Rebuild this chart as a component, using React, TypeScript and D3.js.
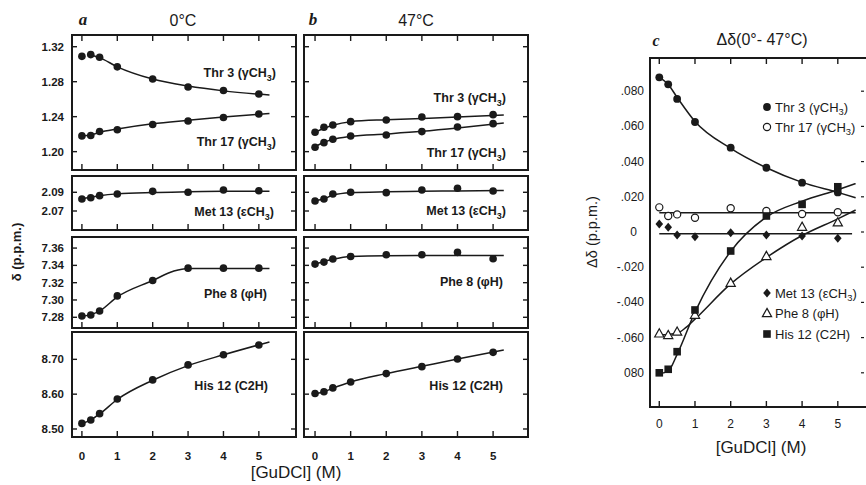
import React from "react";
import * as d3 from "d3";

// ---------- data ----------
const gudcl = [0, 0.25, 0.5, 1, 2, 3, 4, 5];
const xTickValues = [0, 1, 2, 3, 4, 5];

// (a) 0 °C chemical shifts (p.p.m.)
const thr3At0 = [1.309, 1.311, 1.308, 1.297, 1.283, 1.274, 1.27, 1.266];
const thr17At0 = [1.218, 1.2185, 1.223, 1.225, 1.231, 1.235, 1.239, 1.243];
const met13At0 = [2.0828, 2.0842, 2.0864, 2.0882, 2.091, 2.09, 2.0925, 2.0917];
const phe8At0 = [7.2815, 7.2827, 7.2873, 7.3047, 7.3225, 7.3368, 7.3368, 7.3368];
const his12At0 = [8.516, 8.526, 8.544, 8.586, 8.641, 8.684, 8.713, 8.741];

// (b) 47 °C chemical shifts (p.p.m.)
const thr3At47 = [1.2222, 1.2279, 1.2305, 1.2343, 1.2362, 1.2397, 1.24, 1.2423];
const thr17At47 = [1.205, 1.2103, 1.2142, 1.2179, 1.2191, 1.2229, 1.2282, 1.232];
const met13At47 = [2.0807, 2.0828, 2.0882, 2.09, 2.0896, 2.0925, 2.0943, 2.0914];
const phe8At47 = [7.3415, 7.3438, 7.3473, 7.3503, 7.3523, 7.3523, 7.355, 7.3476];
const his12At47 = [8.602, 8.607, 8.618, 8.635, 8.659, 8.679, 8.701, 8.72];

// (c) Δδ (0° - 47 °C)
const dThr3 = [0.0879, 0.0839, 0.0756, 0.0625, 0.0479, 0.0365, 0.028, 0.0225];
const dThr17 = [0.014, 0.0091, 0.01, 0.0081, 0.0135, 0.0119, 0.0102, 0.0112];
const dMet13 = [0.0045, 0.0027, -0.0017, -0.0027, -0.0004, -0.0017, -0.0023, -0.0036];
const dPhe8 = [-0.0576, -0.0585, -0.0566, -0.047, -0.0288, -0.0136, 0.003, 0.0055];
const dHis12 = [-0.08, -0.078, -0.068, -0.0443, -0.0108, 0.0091, 0.0157, 0.0257];

// fitted curves [GuDCl, value]
type P = [number, number];
const thr3At0Fit: P[] = [[0.15, 1.3115], [0.5, 1.3075], [1, 1.297], [2, 1.283], [3, 1.275], [4, 1.2695], [5.3, 1.2648]];
const thr17At0Fit: P[] = [[0, 1.218], [0.25, 1.219], [0.5, 1.222], [1, 1.2258], [2, 1.2318], [3, 1.2358], [4, 1.2395], [5.3, 1.2437]];
const met13At0Fit: P[] = [[0, 2.083], [0.5, 2.0863], [1, 2.0883], [2, 2.0898], [3, 2.0905], [4, 2.091], [5.3, 2.0912]];
const phe8At0Fit: P[] = [[0, 7.281], [0.5, 7.2872], [1, 7.3035], [2, 7.3225], [2.6, 7.3335], [3, 7.3365], [5.3, 7.3365]];
const his12At0Fit: P[] = [[0, 8.515], [0.25, 8.526], [0.5, 8.543], [1, 8.585], [2, 8.64], [3, 8.682], [4, 8.713], [5.3, 8.75]];

const thr3At47Fit: P[] = [[0, 1.2222], [0.5, 1.2302], [1, 1.2343], [2, 1.2365], [3, 1.238], [4, 1.2396], [5.3, 1.2418]];
const thr17At47Fit: P[] = [[0, 1.206], [0.25, 1.2105], [0.5, 1.214], [1, 1.2175], [2, 1.2202], [3, 1.2232], [4, 1.227], [5.3, 1.2328]];
const met13At47Fit: P[] = [[0, 2.081], [0.25, 2.083], [0.5, 2.087], [1, 2.0895], [2, 2.0905], [3, 2.091], [4, 2.0915], [5.3, 2.092]];
const phe8At47Fit: P[] = [[0, 7.3415], [0.5, 7.347], [1, 7.3502], [2, 7.3512], [5.3, 7.3515]];
const his12At47Fit: P[] = [[0, 8.601], [0.25, 8.607], [0.5, 8.617], [1, 8.635], [2, 8.659], [3, 8.68], [4, 8.701], [5.3, 8.727]];

const dThr3Fit: P[] = [[0, 0.088], [0.25, 0.0838], [0.5, 0.0765], [1, 0.0628], [2, 0.0475], [3, 0.0365], [4, 0.0282], [5, 0.0225], [5.5, 0.0195]];
const dThr17Fit: P[] = [[0, 0.011], [5.5, 0.011]];
const dMet13Fit: P[] = [[0, -0.001], [5.4, -0.001]];
const dPhe8Fit: P[] = [[0, -0.0585], [0.5, -0.0575], [0.75, -0.0542], [1, -0.0495], [2, -0.0295], [3, -0.0145], [4, -0.002], [5, 0.0075], [5.5, 0.0125]];
const dHis12Fit: P[] = [[0, -0.0805], [0.25, -0.079], [0.5, -0.0695], [1, -0.0455], [2, -0.011], [3, 0.0085], [4, 0.0175], [5, 0.024], [5.5, 0.0275]];

// axis ticks
const thrTicks = [1.32, 1.28, 1.24, 1.2];
const metTicks = [2.09, 2.07];
const pheTicks = [7.36, 7.34, 7.32, 7.3, 7.28];
const hisTicks = [8.7, 8.6, 8.5];
const deltaTicks = [0.08, 0.06, 0.04, 0.02, 0, -0.02, -0.04, -0.06, -0.08];
const deltaTickLabels = [".080", ".060", ".040", ".020", "0", "-.020", "-.040", "-.060", "080"];

// ---------- helpers ----------
const FONT = "'Liberation Sans', Arial, sans-serif";
const INK = "#1a1a1a";

type LabelParts = [string, string, string];
function SubLabel({ x, y, parts, size, anchor = "end", weight = "normal" }: { x: number; y: number; parts: LabelParts; size: number; anchor?: string; weight?: string }) {
  const [a, s, b] = parts;
  return (
    <text x={x} y={y} fontSize={size} fontFamily={FONT} fontWeight={weight} textAnchor={anchor} fill={INK}>
      {a}
      {s ? (
        <tspan dy={size * 0.28} fontSize={size * 0.72}>
          {s}
        </tspan>
      ) : null}
      {s ? <tspan dy={-size * 0.28}>{b}</tspan> : <tspan>{b}</tspan>}
    </text>
  );
}

type Series = { values: number[]; fit: P[]; label: LabelParts; lx: number; ly: number };

function Box({
  x0, x1, y0, y1, xDomain, yDomain, ticks, tickLabels, series, topTicks,
}: {
  x0: number; x1: number; y0: number; y1: number; xDomain: [number, number]; yDomain: [number, number];
  ticks: number[]; tickLabels: boolean; series: Series[]; topTicks: boolean;
}) {
  const x = d3.scaleLinear().domain(xDomain).range([x0, x1]);
  const y = d3.scaleLinear().domain(yDomain).range([y1, y0]);
  const line = d3.line<P>().x((d) => x(d[0])).y((d) => y(d[1])).curve(d3.curveMonotoneX);
  return (
    <g>
      <rect x={x0} y={y0} width={x1 - x0} height={y1 - y0} fill="none" stroke={INK} strokeWidth={2} />
      {xTickValues.map((t) => (
        <g key={"xt" + t}>
          <line x1={x(t)} x2={x(t)} y1={y1} y2={y1 - 6} stroke={INK} strokeWidth={1.4} />
          {topTicks ? <line x1={x(t)} x2={x(t)} y1={y0} y2={y0 + 6} stroke={INK} strokeWidth={1.4} /> : null}
        </g>
      ))}
      {ticks.map((t) => (
        <g key={"yt" + t}>
          <line x1={x0} x2={x0 + 5} y1={y(t)} y2={y(t)} stroke={INK} strokeWidth={1.4} />
          <line x1={x1} x2={x1 - 5} y1={y(t)} y2={y(t)} stroke={INK} strokeWidth={1.4} />
          {tickLabels ? (
            <text x={x0 - 8} y={y(t) + 4} fontSize={11.5} fontWeight="bold" fontFamily={FONT} textAnchor="end" fill={INK}>
              {t.toFixed(2)}
            </text>
          ) : null}
        </g>
      ))}
      {series.map((s, i) => (
        <g key={"s" + i}>
          <path d={line(s.fit) || ""} fill="none" stroke={INK} strokeWidth={1.5} />
          {s.values.map((v, j) => (
            <circle key={j} cx={x(gudcl[j])} cy={y(v)} r={3.8} fill={INK} />
          ))}
          <SubLabel x={s.lx} y={s.ly} parts={s.label} size={12.5} weight="bold" />
        </g>
      ))}
    </g>
  );
}

type Marker = "dot" | "ring" | "diamond" | "triangle" | "square";
function Mark({ kind, cx, cy }: { kind: Marker; cx: number; cy: number }) {
  switch (kind) {
    case "dot":
      return <circle cx={cx} cy={cy} r={3.9} fill={INK} />;
    case "ring":
      return <circle cx={cx} cy={cy} r={3.6} fill="#fff" stroke={INK} strokeWidth={1.2} />;
    case "diamond":
      return <path d={`M${cx},${cy - 4.5}L${cx + 3.8},${cy}L${cx},${cy + 4.5}L${cx - 3.8},${cy}Z`} fill={INK} />;
    case "triangle":
      return <path d={`M${cx},${cy - 4.6}L${cx + 4.6},${cy + 3.6}L${cx - 4.6},${cy + 3.6}Z`} fill="#fff" stroke={INK} strokeWidth={1.2} />;
    case "square":
      return <rect x={cx - 3.8} y={cy - 3.8} width={7.6} height={7.6} fill={INK} />;
  }
}

export default function App() {
  const colA = { x0: 72, x1: 296, xDomain: [-0.28, 6.05] as [number, number] };
  const colB = { x0: 304, x1: 528, xDomain: [-0.31, 5.98] as [number, number] };
  const rows = {
    thr: { y0: 35, y1: 170, yDomain: [1.179, 1.3334] as [number, number], ticks: thrTicks },
    met: { y0: 176, y1: 230, yDomain: [2.0497, 2.1074] as [number, number], ticks: metTicks },
    phe: { y0: 237, y1: 328, yDomain: [7.2676, 7.3728] as [number, number], ticks: pheTicks },
    his: { y0: 332, y1: 437, yDomain: [8.477, 8.7785] as [number, number], ticks: hisTicks },
  };

  const thrLbl3: LabelParts = ["Thr 3 (\u03B3CH", "3", ")"];
  const thrLbl17: LabelParts = ["Thr 17 (\u03B3CH", "3", ")"];
  const metLbl: LabelParts = ["Met 13 (\u03B5CH", "3", ")"];
  const pheLbl: LabelParts = ["Phe 8 (\u03C6H)", "", ""];
  const hisLbl: LabelParts = ["His 12 (C2H)", "", ""];

  // panel c scales
  const cx = d3.scaleLinear().domain([-0.26, 5.79]).range([650, 866]);
  const cy = d3.scaleLinear().domain([-0.1, 0.1]).range([408, 56]);
  const cLine = d3.line<P>().x((d) => cx(d[0])).y((d) => cy(d[1])).curve(d3.curveMonotoneX);
  const cTop = 58;
  const cBottom = 407;
  const cSeries: { values: number[]; fit: P[]; kind: Marker }[] = [
    { values: dThr17, fit: dThr17Fit, kind: "ring" },
    { values: dMet13, fit: dMet13Fit, kind: "diamond" },
    { values: dPhe8, fit: dPhe8Fit, kind: "triangle" },
    { values: dHis12, fit: dHis12Fit, kind: "square" },
    { values: dThr3, fit: dThr3Fit, kind: "dot" },
  ];
  const legendTop: { kind: Marker; label: LabelParts; y: number }[] = [
    { kind: "dot", label: thrLbl3, y: 107 },
    { kind: "ring", label: thrLbl17, y: 127 },
  ];
  const legendBottom: { kind: Marker; label: LabelParts; y: number }[] = [
    { kind: "diamond", label: metLbl, y: 293 },
    { kind: "triangle", label: pheLbl, y: 313 },
    { kind: "square", label: hisLbl, y: 334 },
  ];

  return (
    <div style={{ position: "absolute", left: 0, top: 0 }}>
      <svg width={866} height={485} viewBox="0 0 866 485" style={{ display: "block", background: "#fff" }}>
        <rect x={0} y={0} width={866} height={485} fill="#fff" />

        {/* panel titles */}
        <text x={83} y={25} fontSize={17} fontStyle="italic" fontWeight="bold" fontFamily="'Liberation Serif', serif" textAnchor="middle" fill={INK}>a</text>
        <text x={183} y={26} fontSize={16} fontFamily={FONT} textAnchor="middle" fill={INK}>0°C</text>
        <text x={313} y={25} fontSize={17} fontStyle="italic" fontWeight="bold" fontFamily="'Liberation Serif', serif" textAnchor="middle" fill={INK}>b</text>
        <text x={416} y={26} fontSize={16} fontFamily={FONT} textAnchor="middle" fill={INK}>47°C</text>

        {/* y label left */}
        <text transform="translate(21,252) rotate(-90)" fontSize={13} fontWeight="bold" fontFamily={FONT} textAnchor="middle" fill={INK}>δ (p.p.m.)</text>

        {/* panel a */}
        <Box {...colA} {...rows.thr} tickLabels topTicks series={[
          { values: thr3At0, fit: thr3At0Fit, label: thrLbl3, lx: 276, ly: 77 },
          { values: thr17At0, fit: thr17At0Fit, label: thrLbl17, lx: 276, ly: 146 },
        ]} />
        <Box {...colA} {...rows.met} tickLabels topTicks={false} series={[
          { values: met13At0, fit: met13At0Fit, label: metLbl, lx: 274, ly: 216 },
        ]} />
        <Box {...colA} {...rows.phe} tickLabels topTicks={false} series={[
          { values: phe8At0, fit: phe8At0Fit, label: pheLbl, lx: 267, ly: 298 },
        ]} />
        <Box {...colA} {...rows.his} tickLabels topTicks={false} series={[
          { values: his12At0, fit: his12At0Fit, label: hisLbl, lx: 268, ly: 390 },
        ]} />

        {/* panel b */}
        <Box {...colB} {...rows.thr} tickLabels={false} topTicks series={[
          { values: thr3At47, fit: thr3At47Fit, label: thrLbl3, lx: 506, ly: 102 },
          { values: thr17At47, fit: thr17At47Fit, label: thrLbl17, lx: 506, ly: 157 },
        ]} />
        <Box {...colB} {...rows.met} tickLabels={false} topTicks={false} series={[
          { values: met13At47, fit: met13At47Fit, label: metLbl, lx: 506, ly: 215 },
        ]} />
        <Box {...colB} {...rows.phe} tickLabels={false} topTicks={false} series={[
          { values: phe8At47, fit: phe8At47Fit, label: pheLbl, lx: 503, ly: 286 },
        ]} />
        <Box {...colB} {...rows.his} tickLabels={false} topTicks={false} series={[
          { values: his12At47, fit: his12At47Fit, label: hisLbl, lx: 503, ly: 390 },
        ]} />

        {/* x tick labels a & b */}
        {[colA, colB].map((c, ci) => {
          const sx = d3.scaleLinear().domain(c.xDomain).range([c.x0, c.x1]);
          return xTickValues.map((t) => (
            <text key={ci + "-" + t} x={sx(t)} y={460} fontSize={11.5} fontWeight="bold" fontFamily={FONT} textAnchor="middle" fill={INK}>
              {t}
            </text>
          ));
        })}
        <text x={296} y={478} fontSize={17} fontFamily={FONT} textAnchor="middle" fill={INK}>[GuDCl]  (M)</text>

        {/* panel c */}
        <text x={656} y={46} fontSize={16} fontStyle="italic" fontWeight="bold" fontFamily="'Liberation Serif', serif" textAnchor="middle" fill={INK}>c</text>
        <text x={762} y={45} fontSize={16} fontFamily={FONT} textAnchor="middle" fill={INK}>Δδ(0°- 47°C)</text>
        <text transform="translate(597,232) rotate(-90)" fontSize={14.5} fontFamily={FONT} textAnchor="middle" fill={INK}>Δδ (p.p.m.)</text>

        <line x1={650} x2={650} y1={cTop} y2={cBottom} stroke={INK} strokeWidth={2} />
        <line x1={649} x2={866} y1={cTop} y2={cTop} stroke={INK} strokeWidth={2} />
        <line x1={649} x2={866} y1={cBottom} y2={cBottom} stroke={INK} strokeWidth={2} />
        {xTickValues.map((t) => (
          <g key={"cxt" + t}>
            <line x1={cx(t)} x2={cx(t)} y1={cTop} y2={cTop + 6} stroke={INK} strokeWidth={1.4} />
            <line x1={cx(t)} x2={cx(t)} y1={cBottom} y2={cBottom - 6} stroke={INK} strokeWidth={1.4} />
            <text x={cx(t)} y={428} fontSize={12} fontFamily={FONT} textAnchor="middle" fill={INK}>{t}</text>
          </g>
        ))}
        {deltaTicks.map((t, i) => (
          <g key={"cyt" + i}>
            <line x1={861} x2={864} y1={cy(t)} y2={cy(t)} stroke={INK} strokeWidth={1.2} />
            <text x={t === 0 ? 637 : 644} y={cy(t) + 4} fontSize={12} fontFamily={FONT} textAnchor="end" fill={INK}>
              {deltaTickLabels[i]}
            </text>
          </g>
        ))}
        {cSeries.map((s, i) => (
          <path key={"cl" + i} d={cLine(s.fit) || ""} fill="none" stroke={INK} strokeWidth={1.5} />
        ))}
        {cSeries.map((s, i) => (
          <g key={"cm" + i}>
            {s.values.map((v, j) => (
              <Mark key={j} kind={s.kind} cx={cx(gudcl[j])} cy={cy(v)} />
            ))}
          </g>
        ))}
        {[...legendTop, ...legendBottom].map((l, i) => (
          <g key={"lg" + i}>
            <Mark kind={l.kind} cx={767} cy={l.y} />
            <SubLabel x={775} y={l.y + 4.5} parts={l.label} size={13} anchor="start" />
          </g>
        ))}
        <text x={761} y={453} fontSize={17} fontFamily={FONT} textAnchor="middle" fill={INK}>[GuDCl]  (M)</text>
      </svg>
    </div>
  );
}
